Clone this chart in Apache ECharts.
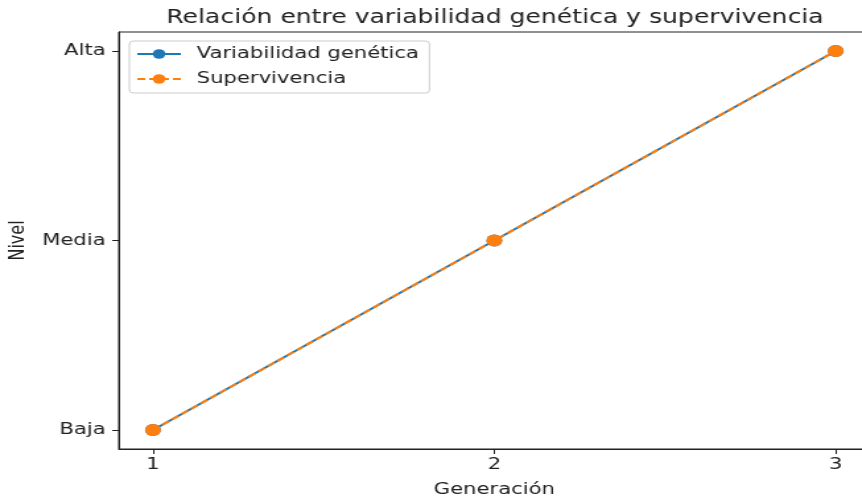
<!DOCTYPE html>
<html>
<head>
<meta charset="utf-8">
<script src="https://cdn.jsdelivr.net/npm/echarts@6/dist/echarts.min.js"></script>
<style>
  html, body { margin: 0; padding: 0; background: #fff; overflow: hidden; }
  #wrap { width: 862px; height: 496px; overflow: hidden; }
  /* the reference is stretched horizontally, so the chart is drawn narrower and scaled */
  #chart { width: 653px; height: 496px; transform: scaleX(1.32); transform-origin: 0 0; }
</style>
</head>
<body>
<div id="wrap"><div id="chart"></div></div>
<script>
(function () {
    "use strict";

    // datos
    const generaciones = [1, 2, 3];
    const nivelesLabels = ['Baja', 'Media', 'Alta'];
    const nivelesTicks = [0, 1, 2];
    const variabilidad = [0, 1, 2];   // Baja, Media, Alta
    const supervivencia = [0, 1, 2];

    const font = 'DejaVu Sans';

    function pares(vals) {
        return generaciones.map((g, i) => [g, vals[i]]);
    }

    let myChart = echarts.init(document.getElementById('chart'));
    let option = {
        animation: false,
        backgroundColor: '#fff',
        title: {
            text: 'Relación entre variabilidad genética y supervivencia',
            left: 370,
            textAlign: 'center',
            top: 4,
            textStyle: { fontFamily: font, fontSize: 19, fontWeight: 'normal', color: '#222' }
        },
        legend: {
            left: 98,
            top: 41,
            orient: 'vertical',
            padding: [5, 8, 6, 5],
            itemGap: 9,
            itemWidth: 33,
            itemHeight: 12,
            borderColor: '#ccc',
            borderWidth: 1,
            borderRadius: 3,
            backgroundColor: 'rgba(255,255,255,0.8)',
            textStyle: { fontFamily: font, fontSize: 16, lineHeight: 16, color: '#222', padding: [0, 0, 0, 7] },
            data: ['Variabilidad genética', 'Supervivencia']
        },
        grid: {
            left: 90, top: 32, width: 569, height: 417,
            outerBoundsMode: 'none',
            show: true, borderColor: '#222', borderWidth: 1, backgroundColor: 'transparent'
        },
        xAxis: {
            type: 'value',
            min: 0.9,
            max: 3.1,
            name: 'Generación',
            nameLocation: 'middle',
            nameGap: 33,
            nameTextStyle: { fontFamily: font, fontSize: 16, color: '#222' },
            splitLine: { show: false },
            axisLine: { onZero: false, lineStyle: { color: '#222', width: 1 } },
            axisTick: { customValues: generaciones, length: 5, lineStyle: { color: '#222' } },
            axisLabel: {
                customValues: generaciones,
                fontFamily: font, fontSize: 16, color: '#222', margin: 8
            }
        },
        yAxis: {
            type: 'value',
            min: -0.1,
            max: 2.1,
            name: 'Nivel',
            nameLocation: 'middle',
            nameGap: 68,
            nameMoveOverlap: false,
            nameRotate: 90,
            nameTextStyle: { fontFamily: font, fontSize: 16, color: '#222' },
            splitLine: { show: false },
            axisLine: { show: true, onZero: false, lineStyle: { color: '#222', width: 1 } },
            axisTick: { show: true, customValues: nivelesTicks, length: 5, lineStyle: { color: '#222' } },
            axisLabel: {
                customValues: nivelesTicks,
                fontFamily: font, fontSize: 16, color: '#222', margin: 10,
                formatter: v => nivelesLabels[Math.round(v)]
            }
        },
        series: [
            {
                name: 'Variabilidad genética',
                type: 'line',
                data: pares(variabilidad),
                symbol: 'circle',
                symbolSize: 12,
                itemStyle: { color: '#1f77b4' },
                lineStyle: { color: '#1f77b4', width: 2 }
            },
            {
                name: 'Supervivencia',
                type: 'line',
                data: pares(supervivencia),
                symbol: 'circle',
                symbolSize: 12,
                itemStyle: { color: '#ff7f0e' },
                lineStyle: { color: '#ff7f0e', width: 2, type: [6, 3] }
            }
        ]
    };
    myChart.setOption(option);
})();
</script>
</body>
</html>
